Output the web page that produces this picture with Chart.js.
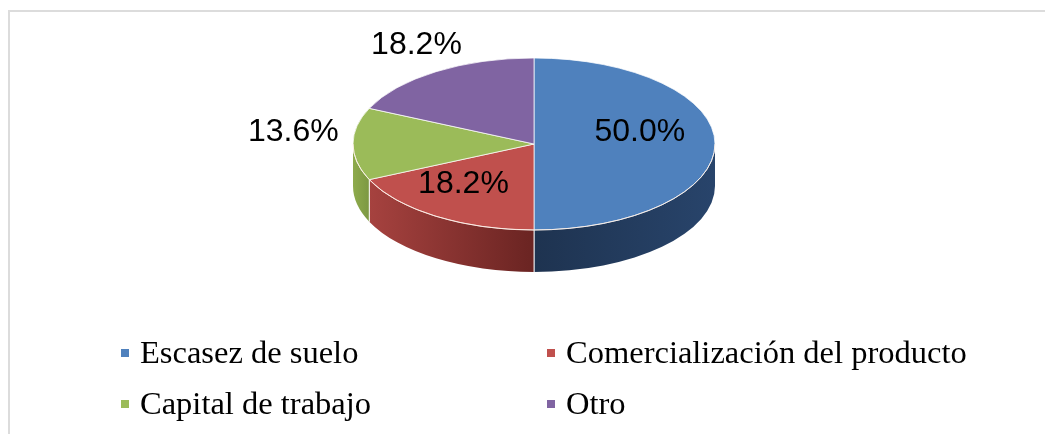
<!DOCTYPE html>
<html>
<head>
<meta charset="utf-8">
<script src="https://cdn.jsdelivr.net/npm/chart.js@4/dist/chart.umd.min.js"></script>
<style>
  html, body { margin: 0; background: #fff; }
  #wrap { position: relative; width: 1045px; height: 434px; }
  #frame { position: absolute; left: 8px; top: 10px; right: 0; bottom: 0;
           border-top: 2px solid #dcdcdc; border-left: 2px solid #dcdcdc; }
  canvas { position: absolute; left: 0; top: 0; }
</style>
</head>
<body>
<div id="wrap">
  <div id="frame"></div>
  <canvas id="pieChart" width="1045" height="434"></canvas>
</div>
<script>
// Data
const categories = ['Escasez de suelo', 'Comercialización del producto', 'Capital de trabajo', 'Otro'];
const shares = [50.0, 18.2, 13.6, 18.2];
const pctLabels = ['50.0%', '18.2%', '13.6%', '18.2%'];

// Colors (top face / side wall ends)
const sliceColors = ['#4F81BD', '#C0504D', '#9BBB59', '#8064A2'];
const sideColors = [
  ['#28446B', '#1E3350'],
  ['#6A2422', '#A6423F'],
  ['#7C9842', '#8EAB4C'],
  ['#4E3D66', '#5E4A78']
];

// tilted pie geometry
const tilt = { cx: 534, cy: 144, ry: 86, depth: 42 };
// label distance from centre (fraction of radius)
const labelRadius = [0.585, 0.72, 1.33, 1.2];

const pie3d = {
  id: 'pie3d',
  beforeDatasetDraw(chart) {
    const ctx = chart.ctx;
    const arcs = chart.getDatasetMeta(0).data;
    const rx = arcs[0].outerRadius;
    const { cx, cy, ry, depth } = tilt;

    // side walls of the front half
    arcs.forEach((arc, i) => {
      const a = Math.max(arc.startAngle, 0);
      const b = Math.min(arc.endAngle, Math.PI);
      if (b <= a) return;
      const xa = cx + rx * Math.cos(a), xb = cx + rx * Math.cos(b);
      ctx.save();
      ctx.beginPath();
      ctx.ellipse(cx, cy, rx, ry, 0, a, b);
      ctx.ellipse(cx, cy + depth, rx, ry, 0, b, a, true);
      ctx.closePath();
      const g = ctx.createLinearGradient(xa, 0, xb === xa ? xa + 1 : xb, 0);
      g.addColorStop(0, sideColors[i][0]);
      g.addColorStop(1, sideColors[i][1]);
      ctx.fillStyle = g;
      ctx.fill();
      // seam lines between walls
      ctx.strokeStyle = 'rgba(255,255,255,0.85)';
      ctx.lineWidth = 1;
      [a, b].forEach(t => {
        if (t > 0.01 && t < Math.PI - 0.01) {
          const x = cx + rx * Math.cos(t), y = cy + ry * Math.sin(t);
          ctx.beginPath();
          ctx.moveTo(x, y);
          ctx.lineTo(x, y + depth);
          ctx.stroke();
        }
      });
      ctx.restore();
    });

    // squash the top face into an ellipse
    ctx.save();
    ctx.translate(cx, cy);
    ctx.scale(1, ry / rx);
    ctx.translate(-arcs[0].x, -arcs[0].y);
  },
  afterDatasetDraw(chart) {
    const ctx = chart.ctx;
    ctx.restore();
    const arcs = chart.getDatasetMeta(0).data;
    const rx = arcs[0].outerRadius;
    const { cx, cy, ry } = tilt;
    ctx.save();
    ctx.strokeStyle = 'rgba(255,240,230,0.8)';
    ctx.lineWidth = 1;
    ctx.beginPath();
    ctx.ellipse(cx, cy, rx, ry, 0, 0, Math.PI);
    ctx.stroke();
    ctx.restore();
  },
  afterDraw(chart) {
    const ctx = chart.ctx;
    const arcs = chart.getDatasetMeta(0).data;
    const rx = arcs[0].outerRadius;
    const { cx, cy, ry } = tilt;

    // percentage labels
    ctx.save();
    ctx.font = '32px "Liberation Sans", Arial, sans-serif';
    ctx.fillStyle = '#000';
    ctx.textAlign = 'center';
    ctx.textBaseline = 'middle';
    arcs.forEach((arc, i) => {
      const m = (arc.startAngle + arc.endAngle) / 2;
      const f = labelRadius[i];
      ctx.fillText(pctLabels[i], cx + f * rx * Math.cos(m), cy + f * ry * Math.sin(m) - 12);
    });
    ctx.restore();

    // legend, two columns
    const colX = [121, 547], rowY = [363, 414];
    ctx.save();
    ctx.font = '32.5px "Liberation Serif", "Times New Roman", serif';
    ctx.textBaseline = 'alphabetic';
    ctx.textAlign = 'left';
    categories.forEach((name, i) => {
      const x = colX[i % 2], y = rowY[Math.floor(i / 2)];
      ctx.fillStyle = sliceColors[i];
      ctx.fillRect(x, y - 14, 8, 8);
      ctx.fillStyle = '#000';
      ctx.fillText(name, x + 19, y);
    });
    ctx.restore();
  }
};

new Chart(document.getElementById('pieChart').getContext('2d'), {
  type: 'pie',
  data: {
    labels: categories,
    datasets: [{
      data: shares,
      backgroundColor: sliceColors,
      borderColor: '#ffffff',
      borderWidth: 1,
      hoverOffset: 0
    }]
  },
  options: {
    responsive: false,
    animation: false,
    radius: 181,
    layout: { padding: { left: 353, right: 330, top: 0, bottom: 0 } },
    plugins: {
      legend: { display: false },
      tooltip: { enabled: false }
    }
  },
  plugins: [pie3d]
});
</script>
</body>
</html>
